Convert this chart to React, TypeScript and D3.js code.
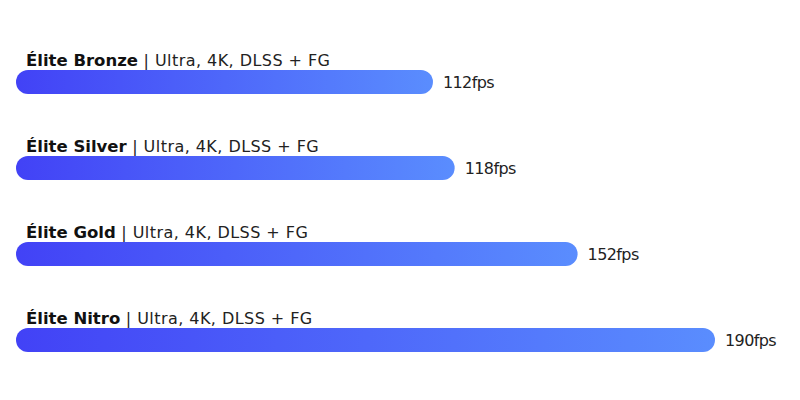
import React from "react";
import * as d3 from "d3";

const names = ["Élite Bronze", "Élite Silver", "Élite Gold", "Élite Nitro"];
const settings = ["Ultra, 4K, DLSS + FG", "Ultra, 4K, DLSS + FG", "Ultra, 4K, DLSS + FG", "Ultra, 4K, DLSS + FG"];
const fps = [112, 118, 152, 190];

const W = 800;
const H = 400;
const barLeft = 16;
const barH = 24;
const font = "'DejaVu Sans', sans-serif";

export default function App() {
  const x = d3.scaleLinear().domain([0, 190]).range([28, 715]);
  const y = d3.scaleBand<number>().domain(d3.range(names.length)).range([70 - 31, 352 + 31]).paddingInner(0).paddingOuter(0);
  return (
    <svg width={W} height={H} style={{ position: "absolute", left: 0, top: 0, background: "#fff" }}>
      <defs>
        <linearGradient id="barGrad" x1="0" x2="1" y1="0" y2="0">
          <stop offset="0%" stopColor="#4242F6" />
          <stop offset="100%" stopColor="#5A8DFE" />
        </linearGradient>
      </defs>
      {names.map((n, i) => {
        const top = (y(i) as number) + 31;
        const right = x(fps[i]);
        return (
          <g key={n}>
            <text x={26} y={top - 4} fontFamily={font} fill="#111">
              <tspan fontWeight={700} fontSize={16.5}>{n}</tspan>
              <tspan fill="#222" fontSize={16} letterSpacing={0.45}>{" | " + settings[i]}</tspan>
            </text>
            <rect x={barLeft} y={top} width={right - barLeft} height={barH} rx={12} ry={12} fill="url(#barGrad)" />
            <text x={right + 10} y={top + barH / 2 + 6} fontFamily={font} fontSize={16} letterSpacing={-0.6} fill="#222">
              {fps[i] + "fps"}
            </text>
          </g>
        );
      })}
    </svg>
  );
}
